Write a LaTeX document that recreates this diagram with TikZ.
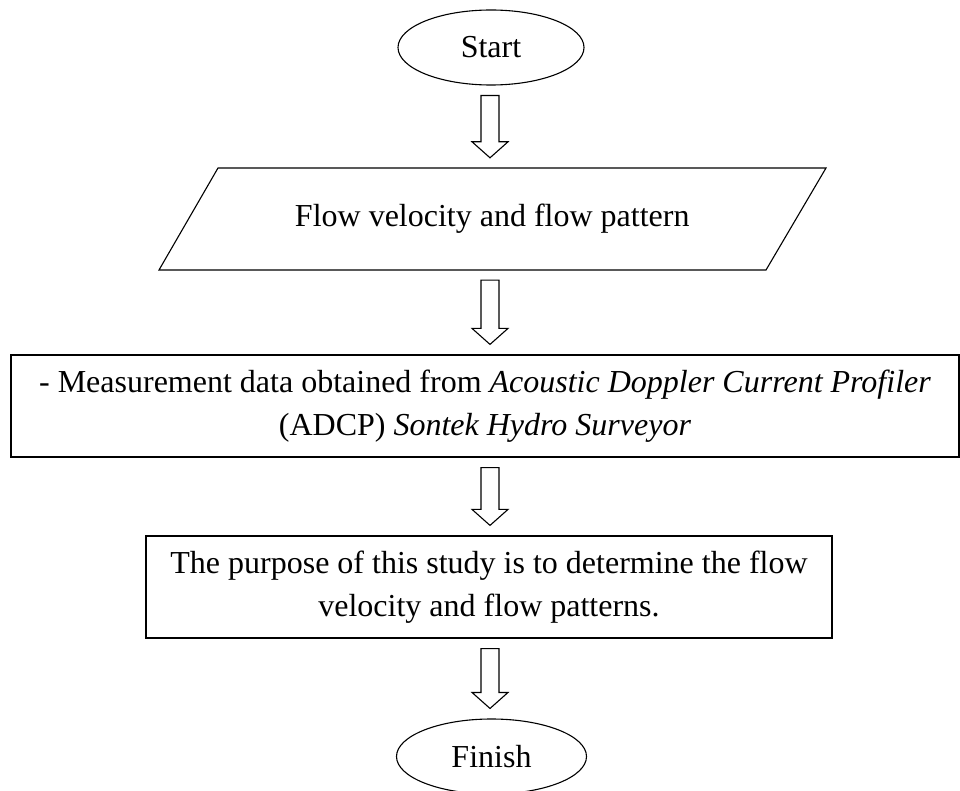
\documentclass[tikz,border=0pt]{standalone}
\usepackage{fontspec}
\setmainfont{Liberation Serif}
\usetikzlibrary{shapes.geometric,calc}
\tikzset{
  term/.style={draw, ellipse, line width=1.1pt, minimum width=186pt, minimum height=75pt, inner sep=0pt},
  procbox/.style={draw, line width=1.2pt, inner sep=0pt, align=center},
  iotext/.style={inner sep=0pt, minimum height=102pt},
  blockarr/.style={draw, line width=1.1pt, line join=miter},
  txt/.style={font=\fontsize{32}{42.5}\selectfont}
}
\newcommand{\blockarrow}[2]{%
  \draw[blockarr] let \p1=(#1.south), \p2=(#2.north) in
    (481pt,\y1-10pt) -- (499pt,\y1-10pt) -- (499pt,\y2+26pt) -- (508pt,\y2+26pt)
    -- (490pt,\y2+10pt) -- (472pt,\y2+26pt) -- (481pt,\y2+26pt) -- cycle;}
\begin{document}
\begin{tikzpicture}[x=1pt,y=1pt]
\useasboundingbox (0,0) rectangle (960,-791);
\node[term, txt] (start) at (491,-47.5) {Start};
\draw[line width=1.1pt] (218,-168) -- (826,-168) -- (766,-270) -- (159,-270) -- cycle;
\node[iotext, txt] (io) at (492.25,-219) {Flow velocity and flow pattern};
\node[procbox, txt, minimum width=948pt, minimum height=102pt] (meas) at (485,-406)
  {- Measurement data obtained from \textit{Acoustic Doppler Current Profiler}\\(ADCP) \textit{Sontek Hydro Surveyor}};
\node[procbox, txt, minimum width=686pt, minimum height=102pt] (purp) at (489,-587)
  {The purpose of this study is to determine the flow\\velocity and flow patterns.};
\node[term, txt, minimum width=190pt] (finish) at (491.5,-756.5) {Finish};
\blockarrow{start}{io}
\blockarrow{io}{meas}
\blockarrow{meas}{purp}
\blockarrow{purp}{finish}
\end{tikzpicture}
\end{document}
